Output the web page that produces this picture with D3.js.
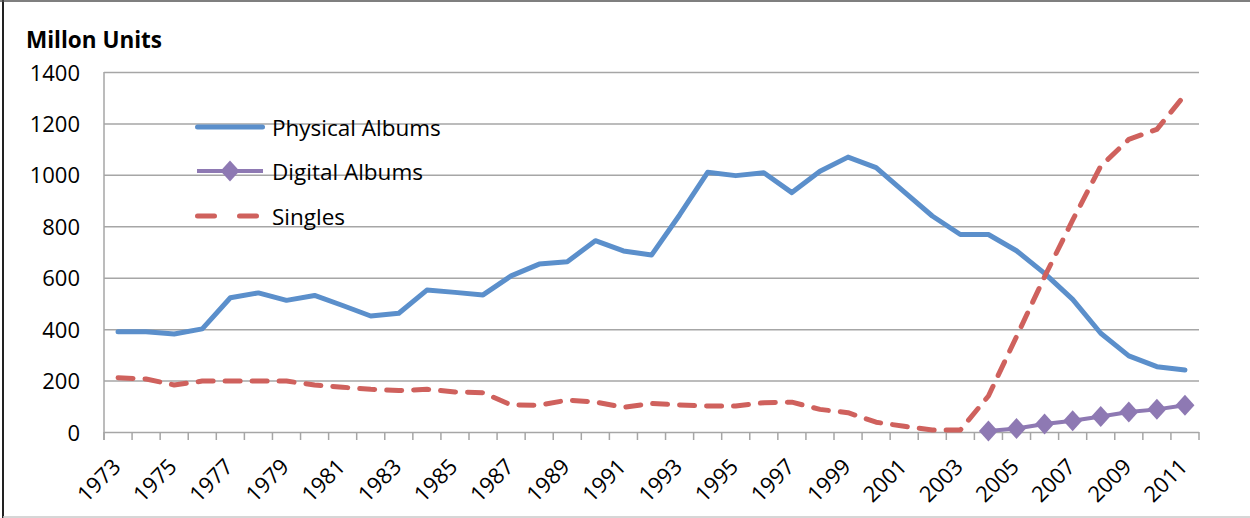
<!DOCTYPE html>
<html>
<head>
<meta charset="utf-8">
<script src="https://cdn.jsdelivr.net/npm/d3@7/dist/d3.min.js"></script>
<style>
  body { margin: 0; background: #fff; }
  #chart { font-family: 'Open Sans', Lato, sans-serif; }
</style>
</head>
<body>
<div id="chart"></div>
<script>
// Data
const years = d3.range(1973, 2012).map(String);

const physicalAlbums = [
  390, 390, 381, 401, 522, 541, 512, 531, 492, 451,
  462, 552, 543, 533, 607, 653, 662, 744, 704, 688,
  844, 1010, 997, 1008, 931, 1014, 1069, 1028, 934, 840,
  768, 768, 705, 617, 516, 384, 296, 254, 241
];

const singles = [
  211, 206, 183, 198, 198, 198, 198, 183, 174, 166,
  161, 166, 156, 153, 105, 104, 124, 117, 96, 111,
  105, 101, 101, 114, 116, 88, 75, 38, 22, 8,
  8, 140, 371, 604, 824, 1034, 1138, 1177, 1311
];

const digitalYears = ['2004', '2005', '2006', '2007', '2008', '2009', '2010', '2011'];
const digitalAlbums = [4, 14, 31, 44, 60, 78, 88, 104];

const yTicks = [0, 200, 400, 600, 800, 1000, 1200, 1400];
const legendLabels = ['Physical Albums', 'Digital Albums', 'Singles'];

const color = {
  physical: '#5b8fcb',
  digital: '#8e79b3',
  singles: '#cf615d',
  grid: '#a6a6a6',
  text: '#000'
};

const W = 1250;
const H = 518;
const plot = { left: 104, right: 1199, top: 72, bottom: 432 };

const svg = d3.select('#chart')
  .append('svg')
  .attr('width', W)
  .attr('height', H);

// Outer frame (left + top dark, bottom light)
svg.append('line').attr('x1', 3).attr('x2', 3).attr('y1', 0).attr('y2', H)
  .attr('stroke', '#222').attr('stroke-width', 2);
svg.append('line').attr('x1', 0).attr('x2', W).attr('y1', 1).attr('y2', 1)
  .attr('stroke', '#555').attr('stroke-width', 1.5);
svg.append('line').attr('x1', 3).attr('x2', W).attr('y1', 517).attr('y2', 517)
  .attr('stroke', '#c8c8c8').attr('stroke-width', 1.5);

// Scales
const x = d3.scaleBand()
  .domain(years)
  .range([plot.left, plot.right]);

const cx = (d) => x(d) + x.bandwidth() / 2;

const y = d3.scaleLinear()
  .domain([0, 1400])
  .range([plot.bottom, plot.top]);

// Gridlines + y axis
const yAxis = svg.append('g')
  .attr('transform', `translate(${plot.left}, 0)`)
  .call(d3.axisLeft(y).tickValues(yTicks).tickSize(8).tickFormat(''));

yAxis.select('.domain').remove();
yAxis.selectAll('.tick line')
  .attr('stroke', color.grid)
  .attr('stroke-width', 1.5)
  .attr('x2', plot.right - plot.left);

svg.append('line')
  .attr('x1', plot.left).attr('x2', plot.left)
  .attr('y1', plot.top).attr('y2', plot.bottom + 8)
  .attr('stroke', color.grid)
  .attr('stroke-width', 1.5);

svg.append('g')
  .selectAll('text')
  .data(yTicks)
  .join('text')
  .attr('x', 80)
  .attr('y', (d) => y(d) + 8.5)
  .attr('text-anchor', 'end')
  .style('font-size', '22px')
  .attr('fill', color.text)
  .text((d) => d);

// X axis ticks on band boundaries
const boundaries = years.map((d) => x(d)).concat([plot.right]);
svg.append('g')
  .selectAll('line')
  .data(boundaries)
  .join('line')
  .attr('x1', (d) => d).attr('x2', (d) => d)
  .attr('y1', plot.bottom).attr('y2', plot.bottom + 8)
  .attr('stroke', color.grid)
  .attr('stroke-width', 1.5);

svg.append('g')
  .selectAll('text')
  .data(years.filter((d, i) => i % 2 === 0))
  .join('text')
  .attr('text-anchor', 'end')
  .attr('transform', (d) => `translate(${cx(d) + 4}, ${plot.bottom + 36}) rotate(-45)`)
  .style('font-size', '22px')
  .attr('fill', color.text)
  .text((d) => d);

// Title
svg.append('text')
  .attr('x', 26)
  .attr('y', 48)
  .style('font-size', '22.5px')
  .style('font-weight', 'bold')
  .attr('fill', color.text)
  .text('Millon Units');

// Lines
const line = d3.line()
  .x((d) => cx(d[0]))
  .y((d) => y(d[1]));

svg.append('path')
  .datum(d3.zip(years, physicalAlbums))
  .attr('d', line)
  .attr('fill', 'none')
  .attr('stroke', color.physical)
  .attr('stroke-width', 5)
  .attr('stroke-linejoin', 'round')
  .attr('stroke-linecap', 'round');

svg.append('path')
  .datum(d3.zip(years, singles))
  .attr('d', line)
  .attr('fill', 'none')
  .attr('stroke', color.singles)
  .attr('stroke-width', 5)
  .attr('stroke-dasharray', '15 12')
  .attr('stroke-linejoin', 'round')
  .attr('stroke-linecap', 'round');

svg.append('path')
  .datum(d3.zip(digitalYears, digitalAlbums))
  .attr('d', line)
  .attr('fill', 'none')
  .attr('stroke', color.digital)
  .attr('stroke-width', 4);

const diamond = (px, py) => `M${px},${py - 10.5}L${px + 9.5},${py}L${px},${py + 10.5}L${px - 9.5},${py}Z`;

svg.append('g')
  .selectAll('path')
  .data(d3.zip(digitalYears, digitalAlbums))
  .join('path')
  .attr('d', (d) => diamond(cx(d[0]), y(d[1])))
  .attr('fill', color.digital);

// Legend
const legend = svg.append('g');
const legendY = [127, 171, 216];

legend.append('line')
  .attr('x1', 197.5).attr('x2', 262.5)
  .attr('y1', legendY[0]).attr('y2', legendY[0])
  .attr('stroke', color.physical).attr('stroke-width', 5)
  .attr('stroke-linecap', 'round');

legend.append('line')
  .attr('x1', 197).attr('x2', 263)
  .attr('y1', legendY[1]).attr('y2', legendY[1])
  .attr('stroke', color.digital).attr('stroke-width', 4);
legend.append('path')
  .attr('d', diamond(230, legendY[1]))
  .attr('fill', color.digital);

legend.append('line')
  .attr('x1', 197.5).attr('x2', 262.5)
  .attr('y1', legendY[2]).attr('y2', legendY[2])
  .attr('stroke', color.singles).attr('stroke-width', 5)
  .attr('stroke-dasharray', '17 25')
  .attr('stroke-linecap', 'round');

legend.selectAll('text')
  .data(legendLabels)
  .join('text')
  .attr('x', 272)
  .attr('y', (d, i) => legendY[i] + 9)
  .style('font-size', '22.5px')
  .attr('fill', color.text)
  .text((d) => d);
</script>
</body>
</html>
